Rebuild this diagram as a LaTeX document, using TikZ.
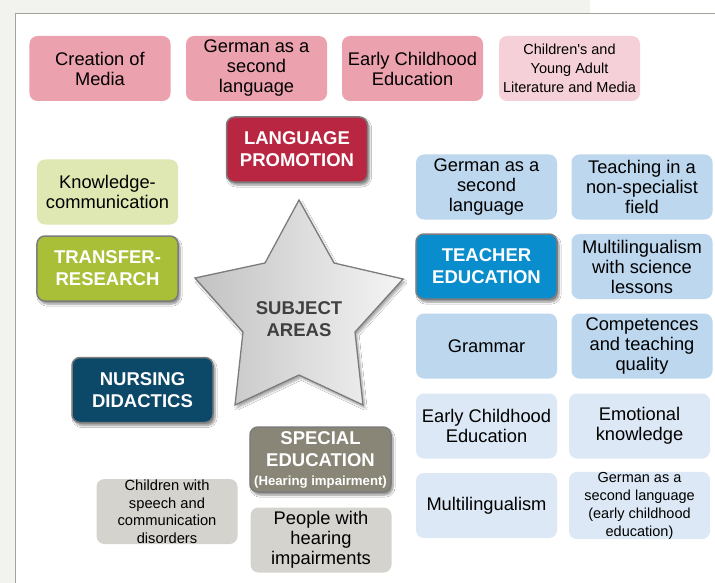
\documentclass[tikz,border=0pt]{standalone}
\usepackage{fontspec}
\setmainfont{Liberation Sans}
\usetikzlibrary{shadows.blur}
\definecolor{bgout}{HTML}{F2F2EE}
\definecolor{bline}{HTML}{A2A29A}
\definecolor{pinkA}{HTML}{ECA1AE}
\definecolor{pinkB}{HTML}{F5D0D8}
\definecolor{crimson}{HTML}{B92642}
\definecolor{lgreen}{HTML}{DFE8B2}
\definecolor{dgreen}{HTML}{A9BF38}
\definecolor{teal}{HTML}{0C4868}
\definecolor{graybrown}{HTML}{898677}
\definecolor{lgray}{HTML}{D4D3CE}
\definecolor{lblue}{HTML}{BDD7EE}
\definecolor{vlblue}{HTML}{DCE8F5}
\definecolor{dblue}{HTML}{0A8DCC}
\definecolor{edge}{HTML}{7C7C7C}
\definecolor{startxt}{HTML}{404040}
\begin{document}
\begin{tikzpicture}[x=1bp,y=-1bp,
  box/.style={rounded corners=8bp, minimum width=141bp, minimum height=65bp,
    inner sep=0pt, align=center, text=black,
    font=\fontsize{18.3bp}{20bp}\selectfont},
  small/.style={font=\fontsize{14.5bp}{18bp}\selectfont},
  head/.style={box, draw=edge, line width=1.5bp, text=white,
    font=\fontsize{18.5bp}{22bp}\selectfont\bfseries,
    blur shadow={shadow xshift=2bp, shadow yshift=-3bp, shadow blur steps=6, shadow opacity=45}}]
\useasboundingbox (0,0) rectangle (715,583);
\fill[bgout] (0,0) rectangle (715,583);
\fill[white] (15.5,13.5) rectangle (715,583);
\fill[white] (590,0) rectangle (715,13.5);
\draw[bline, line width=1.5bp] (15.5,583) -- (15.5,13.5) -- (715,13.5);

% top row
\node[box, fill=pinkA] (media) at (100,68.5) {Creation of\\Media};
\node[box, fill=pinkA] (gsl) at (256.5,68.5) {German as a\\second\\language};
\node[box, fill=pinkA] (ece) at (412.5,68.5) {Early Childhood\\Education};
\node[box, fill=pinkB, font=\fontsize{14.5bp}{19bp}\selectfont] (lit) at (569.5,68.5) {Children\textquotesingle s and\\Young Adult\\Literature and Media};

% language promotion
\node[head, fill=crimson] (lang) at (297,149.5) {LANGUAGE\\PROMOTION};

% transfer research
\node[box, fill=lgreen] (know) at (107.5,192) {Knowledge-\\communication};
\node[head, fill=dgreen] (trans) at (107.5,268.5) {TRANSFER-\\RESEARCH};

% nursing
\node[head, fill=teal] (nurs) at (142.5,390) {NURSING\\DIDACTICS};

% star
\path[draw=edge, line width=1.3bp, left color=black!24, right color=black!4,
  blur shadow={shadow xshift=2bp, shadow yshift=-3bp, shadow blur steps=6, shadow opacity=35}]
  (299,200) -- (334,263) -- (403,279) -- (355,332) -- (363,405) -- (299,375)
  -- (235,405) -- (243,332) -- (195,278) -- (265,263) -- cycle;
\node[align=center, text=startxt, font=\fontsize{18.5bp}{22bp}\selectfont\bfseries] (subj) at (299,319) {SUBJECT\\AREAS};

% special education
\node[head, fill=graybrown, font=\fontsize{18.5bp}{22bp}\selectfont\bfseries] (spec) at (320.5,459.5) {SPECIAL\\EDUCATION\\[-3bp]{\fontsize{13.2bp}{15bp}\selectfont(Hearing impairment)}};
\node[box, fill=lgray, font=\fontsize{14.7bp}{17.5bp}\selectfont] (speech) at (167,511.5) {Children with\\speech and\\communication\\disorders};
\node[box, fill=lgray] (hear) at (321,540) {People with\\hearing\\impairments};

% teacher education
\node[box, fill=lblue] (gsl2) at (486.5,187) {German as a\\second\\language};
\node[box, fill=lblue] (nonspec) at (642,187) {Teaching in a\\non-specialist\\field};
\node[head, fill=dblue] (teach) at (486.5,266.5) {TEACHER\\EDUCATION};
\node[box, fill=lblue] (multisci) at (642,266.5) {Multilingualism\\with science\\lessons};
\node[box, fill=lblue] (gram) at (486.5,346) {Grammar};
\node[box, fill=lblue] (comp) at (642,346) {Competences\\and teaching\\quality};
\node[box, fill=vlblue] (ece2) at (486.5,426) {Early Childhood\\Education};
\node[box, fill=vlblue] (emo) at (639.5,426) {Emotional\\knowledge};
\node[box, fill=vlblue] (multi) at (486.5,505.5) {Multilingualism};
\node[box, fill=vlblue, font=\fontsize{14.5bp}{18bp}\selectfont] (gslece) at (639.5,505.5) {German as a\\second language\\(early childhood\\education)};
\end{tikzpicture}
\end{document}
